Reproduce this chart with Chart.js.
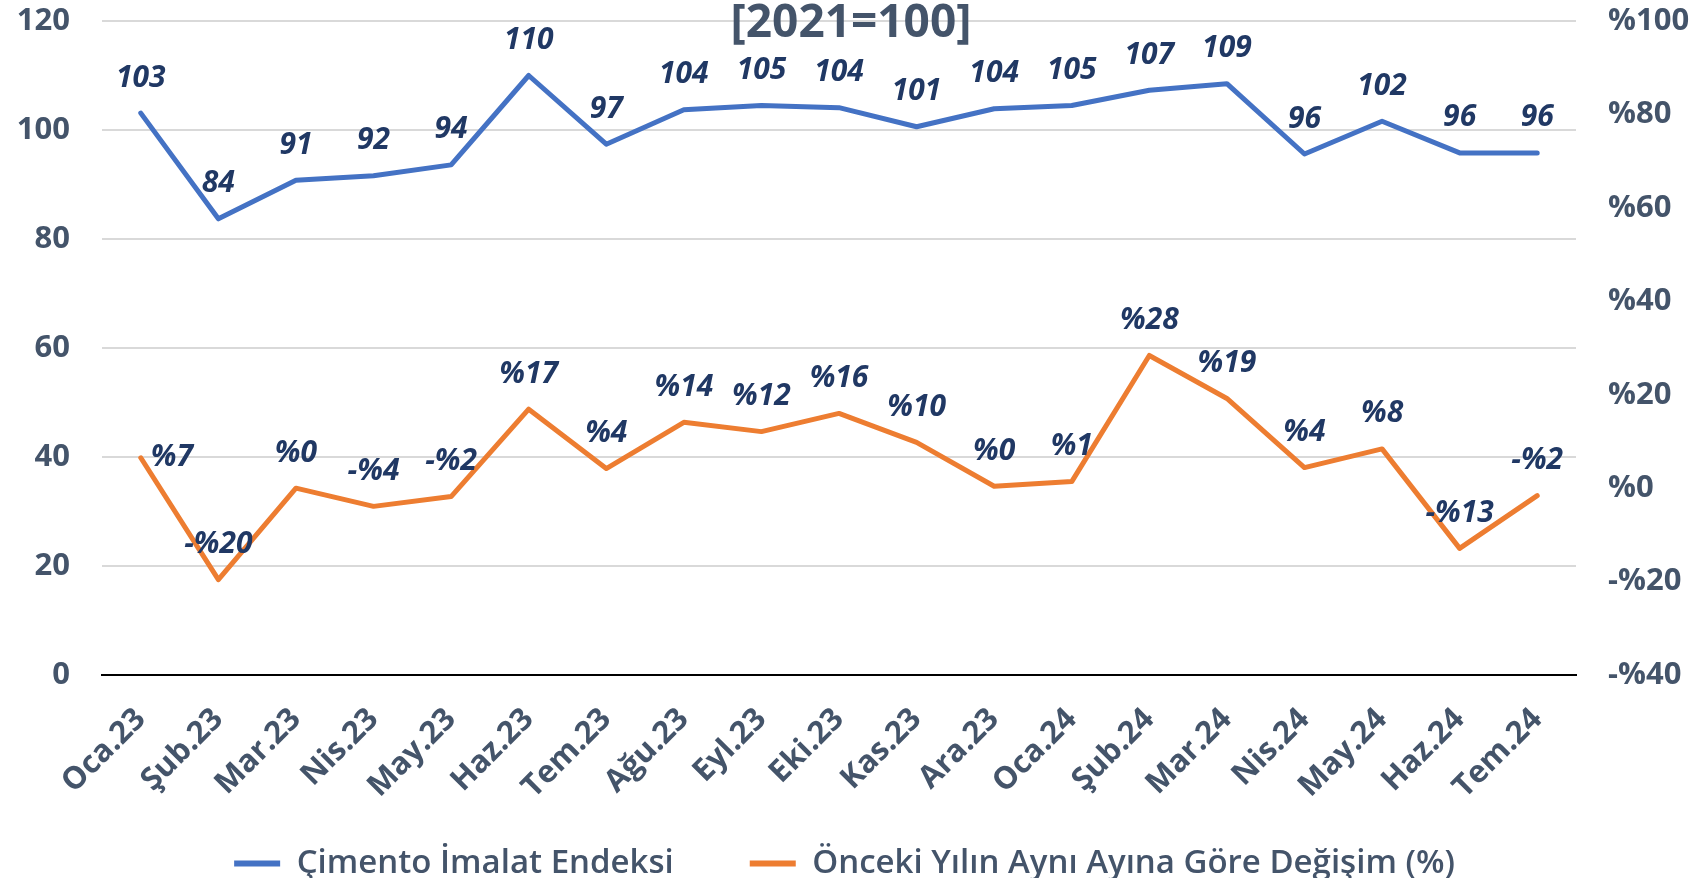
<!DOCTYPE html>
<html>
<head>
<meta charset="utf-8">
<script src="https://cdn.jsdelivr.net/npm/chart.js@4/dist/chart.umd.min.js"></script>
<style>
  body { margin: 0; background: #fff; }
  #wrap { width: 1689px; height: 878px; }
</style>
</head>
<body>
<div id="wrap"><canvas id="myChart" width="1689" height="878"></canvas></div>
<script>
const months = ["Oca.23", "Şub.23", "Mar.23", "Nis.23", "May.23", "Haz.23", "Tem.23", "Ağu.23", "Eyl.23", "Eki.23",
  "Kas.23", "Ara.23", "Oca.24", "Şub.24", "Mar.24", "Nis.24", "May.24", "Haz.24", "Tem.24"];
const indexValues = [103.1, 83.7, 90.8, 91.6, 93.6, 110.0, 97.4, 103.7, 104.5, 104.1,
  100.6, 103.9, 104.5, 107.3, 108.5, 95.6, 101.6, 95.8, 95.8];
const changeValues = [6.5, -19.6, 0.0, -3.9, -1.8, 16.9, 4.2, 14.1, 12.1, 16.0,
  9.8, 0.4, 1.4, 28.4, 19.2, 4.4, 8.4, -12.9, -1.6];
const seriesNames = ["Çimento İmalat Endeksi", "Önceki Yılın Aynı Ayına Göre Değişim (%)"];
const titleText = "[2021=100]";

const FONT = "'Open Sans', sans-serif";
const GREY = "#44546A";
const NAVY = "#203864";

const pct = (v) => (v < 0 ? "-%" + Math.round(-v) : "%" + Math.round(v));

//draws the value labels above the points
const valueLabels = {
  id: "valueLabels",
  afterDatasetsDraw(chart) {
    const ctx = chart.ctx;
    ctx.save();
    ctx.font = "italic 700 30px " + FONT;
    ctx.fillStyle = NAVY;
    ctx.textBaseline = "middle";
    chart.data.datasets.forEach((ds, di) => {
      const meta = chart.getDatasetMeta(di);
      meta.data.forEach((pt, i) => {
        const v = ds.data[i];
        const txt = di === 0 ? String(Math.round(v)) : pct(v);
        if (di === 1 && i === 0) {
          ctx.textAlign = "left";
          ctx.fillText(txt, pt.x + 10, pt.y);
        } else {
          ctx.textAlign = "center";
          ctx.fillText(txt, pt.x, pt.y - 35);
        }
      });
    });
    ctx.restore();
  },
};

//title sits over the top of the plot
const topTitle = {
  id: "topTitle",
  afterDraw(chart) {
    const ctx = chart.ctx;
    ctx.save();
    ctx.font = "700 46px " + FONT;
    ctx.fillStyle = GREY;
    ctx.textAlign = "center";
    ctx.textBaseline = "middle";
    ctx.fillText(titleText, 851, 24);
    ctx.restore();
  },
};

//fixed axis widths, no extra room above/below the value axes
const fixY = (w) => (scale) => {
  scale.width = w;
  scale.paddingTop = 0;
  scale.paddingBottom = 0;
};

const ctx1 = document.getElementById("myChart").getContext("2d");
const myChart = new Chart(ctx1, {
  type: "line",
  data: {
    labels: months,
    datasets: [
      {
        label: seriesNames[0],
        data: indexValues,
        borderColor: "#4472C4",
        backgroundColor: "#4472C4",
        borderWidth: 5,
        pointRadius: 0,
        borderCapStyle: "round",
        borderJoinStyle: "round",
        yAxisID: "y",
      },
      {
        label: seriesNames[1],
        data: changeValues,
        borderColor: "#ED7D31",
        backgroundColor: "#ED7D31",
        borderWidth: 5,
        pointRadius: 0,
        borderCapStyle: "round",
        borderJoinStyle: "round",
        yAxisID: "y1",
      },
    ],
  },
  options: {
    responsive: false,
    animation: false,
    devicePixelRatio: 1,
    layout: { padding: { top: 21, left: 0, right: 0, bottom: -12 } },
    plugins: {
      tooltip: { enabled: false },
      legend: {
        position: "bottom",
        labels: {
          boxWidth: 46,
          boxHeight: 6,
          padding: 10,
          color: GREY,
          font: { family: FONT, size: 33, weight: "600" },
          generateLabels: (chart) => {
            const items = Chart.defaults.plugins.legend.labels.generateLabels(chart);
            items.forEach((it) => {
              it.lineWidth = 0;
            });
            //wider gap between the two entries
            items[0].text = items[0].text + "\u2003\u2003";
            return items;
          },
        },
      },
    },
    scales: {
      x: {
        offset: true,
        grid: { display: false, drawTicks: false },
        border: { color: "#000", width: 2 },
        ticks: {
          color: GREY,
          font: { family: FONT, size: 31, weight: "700" },
          minRotation: 45,
          maxRotation: 45,
          autoSkip: false,
          padding: 26,
        },
        afterFit: (scale) => {
          scale.height = 162;
        },
      },
      y: {
        position: "left",
        min: 0,
        max: 120,
        border: { display: false },
        grid: {
          drawTicks: false,
          lineWidth: 2,
          color: (c) => (c.tick && c.tick.value === 0 ? "#000" : "#D9D9D9"),
        },
        ticks: {
          stepSize: 20,
          padding: 32,
          color: GREY,
          font: { family: FONT, size: 31, weight: "700" },
        },
        afterFit: fixY(102),
      },
      y1: {
        position: "right",
        min: -40,
        max: 100,
        border: { display: false },
        grid: { display: false, drawTicks: false },
        ticks: {
          stepSize: 20,
          padding: 32,
          color: GREY,
          font: { family: FONT, size: 31, weight: "700" },
          callback: (v) => pct(v),
        },
        afterFit: fixY(113),
      },
    },
  },
  plugins: [valueLabels, topTitle],
});
</script>
</body>
</html>
